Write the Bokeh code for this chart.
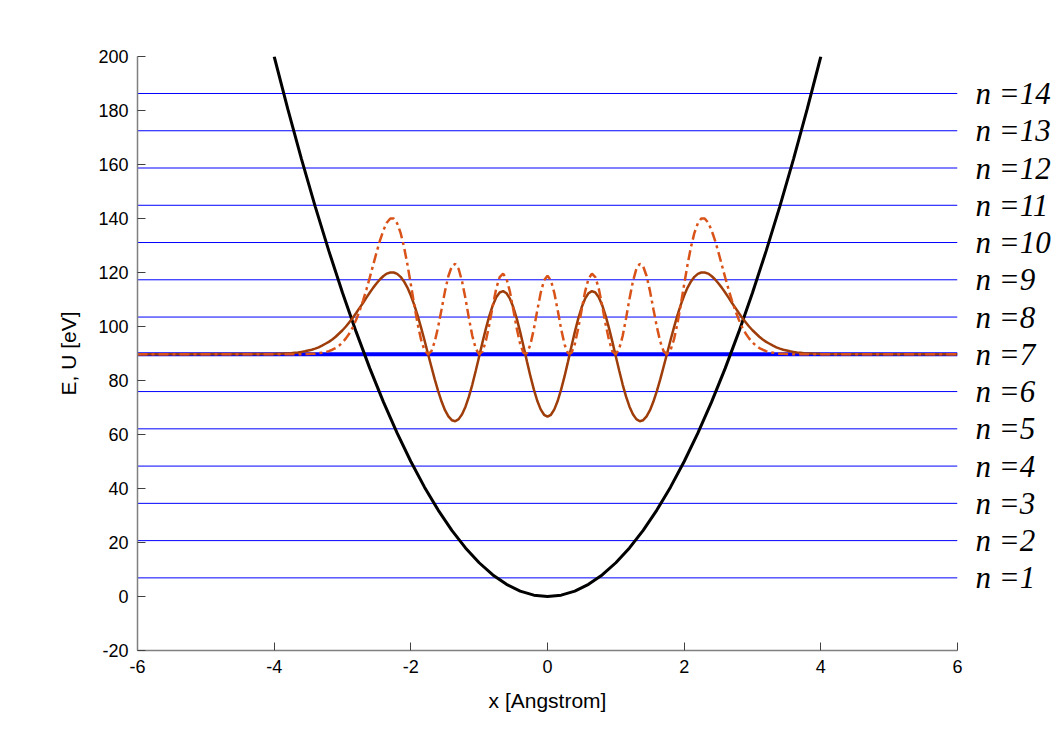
from bokeh.plotting import figure
from bokeh.models import Range1d, FixedTicker, LinearAxis
from bokeh.embed import file_html
from bokeh.resources import INLINE

# energy levels E_n [eV]
levels = [6.9, 20.7, 34.5, 48.3, 62.1, 75.9, 89.7, 103.5, 117.3, 131.1, 144.9, 158.7, 172.5, 186.3]
level_names = ["n =1", "n =2", "n =3", "n =4", "n =5", "n =6", "n =7",
               "n =8", "n =9", "n =10", "n =11", "n =12", "n =13", "n =14"]
x_ticks = [-6, -4, -2, 0, 2, 4, 6]
x_tick_labels = ["-6", "-4", "-2", "0", "2", "4", "6"]
y_ticks = [-20, 0, 20, 40, 60, 80, 100, 120, 140, 160, 180, 200]
y_tick_labels = ["-20", "0", "20", "40", "60", "80", "100", "120", "140", "160", "180", "200"]

# potential U(x)
pot_x = [-4.0, -3.8, -3.6, -3.4, -3.2, -3.0, -2.8, -2.6, -2.4, -2.2, -2.0, -1.8, -1.6, -1.4, -1.2, -1.0,
         -0.8, -0.6, -0.4, -0.2, 0.0, 0.2, 0.4, 0.6, 0.8, 1.0, 1.2, 1.4, 1.6, 1.8, 2.0, 2.2, 2.4, 2.6,
         2.8, 3.0, 3.2, 3.4, 3.6, 3.8, 4.0]
pot_u = [200, 180.5, 162, 144.5, 128, 112.5, 98, 84.5, 72, 60.5, 50, 40.5, 32, 24.5, 18, 12.5,
         8, 4.5, 2, 0.5, 0, 0.5, 2, 4.5, 8, 12.5, 18, 24.5, 32, 40.5, 50, 60.5, 72, 84.5,
         98, 112.5, 128, 144.5, 162, 180.5, 200]

# wavefunction samples: x = -6, then -4.00 ... 4.00 every 0.05, then 6
wave_x = [-6.0] + [round(-4 + 0.05 * i, 2) for i in range(161)] + [6.0]

psi_n7 = [89.7,
    89.8, 89.9, 89.9, 90.0, 90.0, 90.1, 90.3, 90.4, 90.6, 90.8,
    91.1, 91.4, 91.8, 92.3, 92.9, 93.6, 94.3, 95.2, 96.2, 97.4,
    98.6, 100.0, 101.6, 103.2, 105.0, 106.9, 108.7, 110.7, 112.6, 114.4,
    116.0, 117.5, 118.7, 119.6, 120.0, 120.0, 119.5, 118.4, 116.7, 114.4,
    111.5, 108.0, 104.0, 99.6, 94.9, 90.0, 85.2, 80.4, 76.1, 72.2,
    69.0, 66.7, 65.3, 64.9, 65.7, 67.5, 70.3, 74.0, 78.5, 83.6,
    88.9, 94.3, 99.4, 104.0, 107.9, 110.8, 112.6, 113.1, 112.3, 110.3,
    107.1, 102.9, 98.0, 92.6, 87.0, 81.6, 76.7, 72.5, 69.3, 67.3,
    66.6,
    67.3, 69.3, 72.5, 76.7, 81.6, 87.0, 92.6, 98.0, 102.9, 107.1,
    110.3, 112.3, 113.1, 112.6, 110.8, 107.9, 104.0, 99.4, 94.3, 88.9,
    83.6, 78.5, 74.0, 70.3, 67.5, 65.7, 64.9, 65.3, 66.7, 69.0,
    72.2, 76.1, 80.4, 85.2, 90.0, 94.9, 99.6, 104.0, 108.0, 111.5,
    114.4, 116.7, 118.4, 119.5, 120.0, 120.0, 119.6, 118.7, 117.5, 116.0,
    114.4, 112.6, 110.7, 108.7, 106.9, 105.0, 103.2, 101.6, 100.0, 98.6,
    97.4, 96.2, 95.2, 94.3, 93.6, 92.9, 92.3, 91.8, 91.4, 91.1,
    90.8, 90.6, 90.4, 90.3, 90.1, 90.0, 90.0, 89.9, 89.9, 89.8,
    89.7]

prob_n7 = [89.7,
    89.7, 89.7, 89.7, 89.7, 89.7, 89.7, 89.7, 89.7, 89.7, 89.8,
    89.8, 89.9, 89.9, 90.1, 90.3, 90.5, 90.9, 91.4, 92.0, 92.9,
    94.1, 95.6, 97.4, 99.7, 102.5, 105.8, 109.5, 113.7, 118.2, 122.9,
    127.6, 132.0, 135.7, 138.5, 140.0, 140.0, 138.2, 134.7, 129.5, 123.0,
    115.6, 108.0, 100.9, 95.1, 91.2, 89.7, 90.8, 94.4, 99.9, 106.4,
    113.1, 118.7, 122.3, 123.2, 121.3, 116.7, 110.3, 103.1, 96.5, 91.8,
    89.7, 90.8, 94.9, 100.9, 107.8, 114.1, 118.3, 119.6, 117.7, 112.9,
    106.2, 99.3, 93.5, 90.2, 90.1, 93.3, 99.0, 105.9, 112.4, 117.1,
    118.8,
    117.1, 112.4, 105.9, 99.0, 93.3, 90.1, 90.2, 93.5, 99.3, 106.2,
    112.9, 117.7, 119.6, 118.3, 114.1, 107.8, 100.9, 94.9, 90.8, 89.7,
    91.8, 96.5, 103.1, 110.3, 116.7, 121.3, 123.2, 122.3, 118.7, 113.1,
    106.4, 99.9, 94.4, 90.8, 89.7, 91.2, 95.1, 100.9, 108.0, 115.6,
    123.0, 129.5, 134.7, 138.2, 140.0, 140.0, 138.5, 135.7, 132.0, 127.6,
    122.9, 118.2, 113.7, 109.5, 105.8, 102.5, 99.7, 97.4, 95.6, 94.1,
    92.9, 92.0, 91.4, 90.9, 90.5, 90.3, 90.1, 89.9, 89.9, 89.8,
    89.8, 89.7, 89.7, 89.7, 89.7, 89.7, 89.7, 89.7, 89.7, 89.7,
    89.7]

p = figure(width=1057, height=731, x_range=Range1d(-6, 6), y_range=Range1d(-20, 200),
           output_backend="svg", toolbar_location=None,
           min_border_left=137, min_border_right=100, min_border_top=56, min_border_bottom=81)
p.outline_line_color = None
p.grid.visible = False
p.background_fill_color = "white"
p.border_fill_color = "white"

for i, e in enumerate(levels):
    p.line([-6, 6], [e, e], line_color="blue", line_width=4 if i == 6 else 1)

p.line(pot_x, pot_u, line_color="black", line_width=3)
p.line(wave_x, psi_n7, line_color="#9E3D0A", line_width=2.5)
p.line(wave_x, prob_n7, line_color="#D95319", line_width=2.5, line_dash="10 4 3 4")

# level labels on the right, as an axis whose ticks sit at the levels
lab_ax = LinearAxis(ticker=FixedTicker(ticks=levels),
                    major_label_overrides={e: t for e, t in zip(levels, level_names)})
lab_ax.axis_line_color = None
lab_ax.major_tick_line_color = None
lab_ax.minor_tick_line_color = None
lab_ax.major_label_text_font = "Liberation Serif"
lab_ax.major_label_text_font_style = "italic"
lab_ax.major_label_text_font_size = "31px"
lab_ax.major_label_text_color = "black"
lab_ax.major_label_standoff = 12
p.add_layout(lab_ax, "right")

p.xaxis[0].ticker = FixedTicker(ticks=x_ticks)
p.xaxis[0].major_label_overrides = {v: s for v, s in zip(x_ticks, x_tick_labels)}
p.yaxis[0].ticker = FixedTicker(ticks=y_ticks)
p.yaxis[0].major_label_overrides = {v: s for v, s in zip(y_ticks, y_tick_labels)}
for ax in (p.xaxis[0], p.yaxis[0]):
    ax.axis_line_color = "#808080"
    ax.axis_line_width = 1.5
    ax.major_tick_line_color = "#404040"
    ax.major_tick_in = 8
    ax.major_tick_out = 0
    ax.minor_tick_line_color = None
    ax.major_label_text_font = "Liberation Sans"
    ax.major_label_text_font_size = "18px"
    ax.major_label_text_color = "black"
    ax.axis_label_text_font = "Liberation Sans"
    ax.axis_label_text_font_size = "21px"
    ax.axis_label_text_font_style = "normal"
    ax.axis_label_text_color = "black"
    ax.major_label_standoff = 9
p.xaxis[0].axis_label_standoff = 13
p.yaxis[0].axis_label_standoff = 15
p.xaxis[0].axis_label = "x [Angstrom]"
p.yaxis[0].axis_label = "E, U [eV]"

open("out.html", "w").write(file_html(p, INLINE))
